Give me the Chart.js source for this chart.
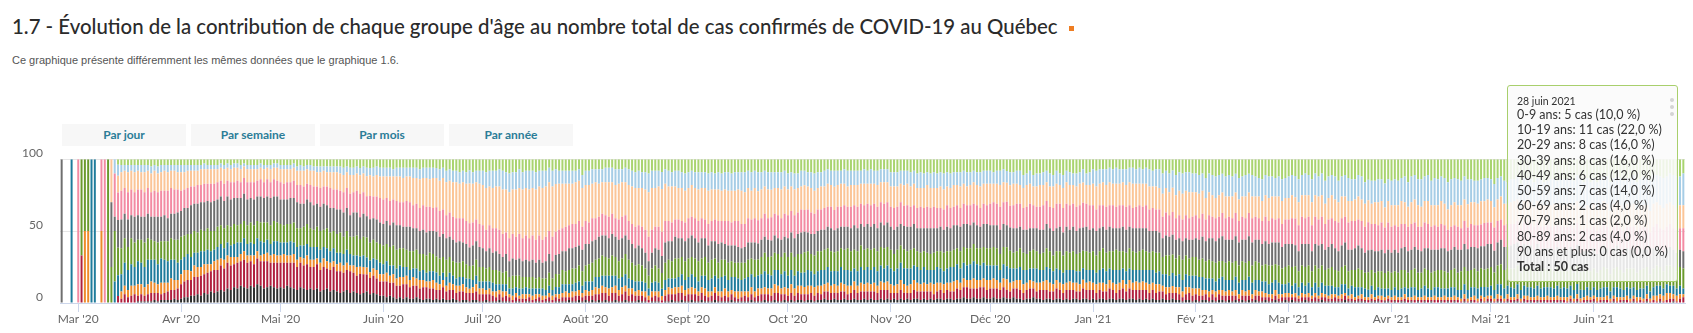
<!DOCTYPE html>
<html lang="fr">
<head>
<meta charset="utf-8">
<title>1.7 - Évolution de la contribution de chaque groupe d'âge</title>
<script src="https://cdn.jsdelivr.net/npm/chart.js@4/dist/chart.umd.min.js"></script>
<style>
  body { margin: 0; width: 1693px; height: 333px; background: #fff; position: relative; overflow: hidden; font-family: Lato, sans-serif; }
  h1 { position: absolute; left: 12px; top: 14px; margin: 0; font-family: Lato, sans-serif; font-weight: 500; font-size: 20.4px; line-height: 24px; color: #2b2b2b; white-space: nowrap; }
  h1 .carre { display: inline-block; width: 5px; height: 5px; background: #ee7d22; margin-left: 12px; vertical-align: middle; }
  .sous-titre { position: absolute; left: 12px; top: 53px; font-family: "Liberation Sans", Arial, sans-serif; font-size: 11px; line-height: 14px; color: #555; }
  .bouton { position: absolute; top: 124px; width: 124px; height: 22px; line-height: 22px; background: #f7f7f7; color: #2b7d97; font-family: Lato, sans-serif; font-weight: bold; font-size: 12px; text-align: center; }
  #zone { position: absolute; left: 0; top: 135px; width: 1693px; height: 198px; }
  #infobulle { position: absolute; left: 1507px; top: 85px; width: 160px; height: 186px; padding: 9px 0 0 9px; border: 1px solid #a8cf6c; border-radius: 3px; background: rgba(250, 250, 250, 0.86); color: #333; font-family: Lato, sans-serif; font-size: 12.5px; }
  #infobulle .date { font-size: 10.5px; line-height: 12px; }
  #infobulle .ligne { line-height: 15.2px; white-space: nowrap; }
  #infobulle .total { font-weight: bold; }
  .point { position: absolute; left: 162px; width: 4px; height: 4px; border-radius: 2px; background: #d4d4d4; }
</style>
</head>
<body>
<h1>1.7 - Évolution de la contribution de chaque groupe d'âge au nombre total de cas confirmés de COVID-19 au Québec<span class="carre"></span></h1>
<div class="sous-titre">Ce graphique présente différemment les mêmes données que le graphique 1.6.</div>
<div class="bouton" style="left:62px">Par jour</div>
<div class="bouton" style="left:191px">Par semaine</div>
<div class="bouton" style="left:320px">Par mois</div>
<div class="bouton" style="left:449px">Par année</div>
<div id="zone"><canvas id="graphique" width="1693" height="198"></canvas></div>
<div id="infobulle"></div>
<script>
// part quotidienne (%) de chaque groupe d'âge, du 25 fév. 2020 au 28 juin 2021
const part0_9 = [
  0,0,0,0,0,0,0,0,0,0,0,0,0,0,0,0,0,4,
  4,4,4,4,4,4,4,4,4,5,4,5,4,4,4,4,4,4,
  4,4,4,4,4,4,4,3,4,4,4,4,3,4,3,4,3,3,4,3,4,4,4,4,3,4,4,4,3,3,
  4,4,4,4,3,5,4,5,4,4,5,5,5,5,5,5,5,5,5,6,5,6,6,5,6,5,6,6,6,5,6,
  6,6,6,7,6,6,6,6,6,6,6,7,6,6,6,6,6,7,6,8,7,8,8,9,8,9,8,9,8,8,
  8,9,8,8,8,7,8,9,10,9,9,7,9,8,8,8,9,8,8,8,6,8,7,8,8,8,8,8,8,7,11,
  8,8,7,7,7,7,6,6,6,7,7,7,6,7,8,9,8,9,9,10,8,8,8,9,7,8,9,8,8,9,10,
  9,8,9,9,9,9,10,9,10,9,10,9,9,10,9,9,9,9,8,9,8,9,9,8,9,9,9,9,9,8,
  10,9,10,10,8,8,9,9,10,9,9,8,7,8,8,8,8,7,8,8,8,8,8,7,8,7,8,8,7,7,7,
  9,9,9,8,8,8,9,8,10,9,10,9,10,9,10,9,10,9,10,9,9,9,8,9,9,8,9,9,8,8,
  8,9,8,8,7,8,9,9,8,8,11,10,8,11,10,10,9,8,10,11,8,10,11,8,9,10,10,9,7,10,9,
  7,8,7,7,7,6,7,6,7,7,7,6,6,7,6,7,6,7,8,7,7,10,8,10,8,11,9,10,9,9,10,
  10,11,10,13,10,11,12,11,10,12,11,12,10,13,12,11,10,11,12,13,14,11,12,12,13,12,14,13,
  12,11,12,14,11,10,11,14,10,12,10,15,12,11,12,15,12,11,13,14,14,11,12,16,14,15,15,14,14,17,14,
  15,14,15,13,12,16,12,11,14,14,12,11,15,13,14,12,13,16,14,13,14,15,12,14,14,15,15,14,13,13,
  14,17,13,12,15,16,14,14,12,17,13,13,14,16,13,14,16,15,14,14,15,14,14,14,13,15,11,13,16,13,16,
  13,16,14,12,12,16,13,12,13,15,13,13,11,16,14,12,13,15,11,11,12,13,12,10,11,12,12,10
];
const part10_19 = [
  0,0,0,0,0,0,0,0,0,0,0,0,0,0,0,0,10,8,
  5,4,5,4,5,4,5,5,4,5,4,5,5,4,5,4,4,5,
  5,5,4,4,4,4,3,4,3,3,3,3,3,3,3,3,3,3,3,2,3,3,3,3,3,3,2,3,3,3,
  3,3,3,3,3,3,4,3,3,4,3,4,4,3,4,4,4,4,5,5,4,5,5,5,5,5,6,5,6,6,6,
  6,6,6,5,6,6,7,6,6,7,7,7,7,7,8,7,7,8,7,8,8,8,8,8,8,8,9,8,8,9,
  10,11,11,12,11,12,13,12,13,12,12,13,12,12,13,12,12,11,12,11,10,11,10,9,9,9,9,9,8,8,9,
  10,10,10,9,10,9,10,10,10,11,10,9,10,11,11,11,12,11,12,13,12,12,11,12,10,11,10,11,12,11,12,
  11,10,11,12,11,11,12,12,11,12,12,12,13,12,13,12,13,14,12,13,12,13,12,11,12,12,11,11,12,11,
  11,10,11,10,11,10,10,11,12,11,10,11,10,10,11,10,9,10,11,10,10,10,9,10,9,10,9,10,9,9,9,
  10,10,10,9,10,9,10,9,10,11,10,9,10,11,10,10,11,10,10,9,9,10,9,10,9,8,9,10,9,9,
  9,8,9,10,9,8,9,8,9,10,9,8,9,8,9,8,9,8,9,8,9,8,9,8,9,8,9,8,9,8,9,
  10,11,10,9,11,10,10,11,10,9,11,10,11,10,11,10,11,12,11,12,13,14,12,13,12,14,13,14,13,14,13,
  13,13,12,14,13,14,15,14,13,14,15,14,13,15,14,15,13,15,14,13,15,14,15,14,13,14,15,14,
  15,14,15,16,14,15,14,16,15,14,15,16,15,14,16,15,14,15,16,15,14,15,16,15,14,16,15,16,15,17,15,
  17,18,17,16,18,17,18,17,18,19,17,18,17,19,18,17,18,19,18,17,18,17,16,17,16,15,16,15,16,15,
  15,16,15,14,16,15,16,15,16,17,16,15,16,17,16,17,16,17,18,17,16,17,18,17,18,17,18,19,18,19,18,
  18,19,18,17,19,20,18,17,19,20,18,19,20,19,18,20,19,21,20,19,20,21,19,20,21,22,20,22
];
const part20_29 = [
  0,0,0,0,0,0,0,0,0,0,0,0,0,0,0,30,0,12,
  13,12,14,13,14,13,12,14,12,13,14,13,13,14,13,12,13,12,
  13,12,12,11,11,10,11,10,10,10,10,9,9,10,9,9,10,9,9,8,9,9,9,8,8,9,8,9,8,9,
  9,10,9,9,9,10,10,11,10,10,11,10,11,11,10,11,12,12,12,12,11,13,12,12,13,13,14,14,14,15,15,
  16,15,17,16,17,18,17,17,18,19,18,20,19,20,19,21,20,21,22,23,22,24,25,24,25,26,28,27,26,28,
  28,29,27,28,29,30,31,30,32,31,33,32,34,33,34,33,35,34,36,35,34,35,33,32,31,30,29,28,29,28,27,
  25,26,24,25,23,22,23,24,22,23,25,24,23,25,26,27,26,27,28,31,29,27,28,30,26,24,25,23,22,23,22,
  21,22,21,22,21,22,23,22,21,22,21,22,21,22,21,22,23,22,21,20,21,20,20,19,20,19,18,19,20,19,
  18,17,18,17,16,17,16,17,16,15,16,15,16,15,16,15,16,15,14,15,14,15,14,15,14,15,14,15,14,15,14,
  14,15,14,13,14,15,14,15,14,13,14,15,14,13,14,15,14,13,14,15,14,15,14,13,14,15,14,15,14,15,
  14,13,14,15,14,13,14,15,14,13,14,15,14,13,14,15,14,13,14,15,14,13,14,15,14,13,14,15,14,13,14,
  15,16,15,16,15,16,15,16,15,16,15,16,17,16,15,16,15,16,15,16,15,16,17,16,17,16,17,18,17,18,17,
  16,17,16,15,16,15,14,15,14,15,14,15,14,15,14,15,14,15,14,15,14,15,16,15,16,15,16,15,
  15,16,15,16,15,16,15,16,15,16,15,14,15,16,15,14,15,14,15,14,15,16,15,16,15,14,15,16,15,14,15,
  15,14,15,16,15,14,15,16,15,14,15,16,15,14,15,16,15,14,15,16,15,16,15,16,15,16,15,16,15,16,
  15,14,15,16,15,14,15,16,15,14,15,16,15,14,15,16,15,14,15,16,15,16,15,16,15,16,15,16,15,16,15,
  16,15,16,15,16,15,16,15,16,15,16,15,16,15,16,15,16,15,16,15,16,15,16,15,16,15,16,16
];
const part30_39 = [
  0,0,0,0,0,100,0,0,0,0,0,0,50,100,0,0,30,20,
  20,18,19,18,17,18,19,17,18,17,18,17,18,17,19,18,17,16,
  14,13,14,13,12,13,12,13,12,13,12,12,11,12,11,12,11,12,11,11,12,11,12,11,12,11,12,11,12,11,
  12,11,12,11,12,12,13,12,11,12,13,12,13,12,13,14,13,14,13,14,14,15,14,15,16,15,14,16,15,16,17,
  17,16,17,16,17,16,17,18,17,16,17,16,17,18,17,16,17,18,17,16,17,16,17,16,17,16,17,16,15,16,
  16,15,16,17,16,17,16,15,16,17,16,17,16,17,16,17,16,17,16,17,16,17,16,17,16,17,16,17,16,17,16,
  16,15,16,15,14,15,14,15,14,13,14,15,14,13,14,15,14,15,16,17,16,15,16,17,15,14,13,12,13,12,13,
  14,13,14,15,14,13,15,14,15,16,15,16,17,16,17,18,17,16,17,16,17,16,15,16,15,16,15,16,15,16,
  16,15,16,15,16,15,16,15,14,15,14,15,14,15,14,15,14,15,14,15,14,15,14,15,14,15,14,15,14,15,14,
  14,15,14,15,14,15,14,13,14,15,14,15,14,15,14,13,14,15,14,13,14,13,14,13,14,13,14,13,14,13,
  15,16,15,16,15,16,15,16,17,16,15,16,17,16,15,16,17,16,15,16,17,16,17,16,17,16,17,16,17,16,17,
  16,15,16,15,16,15,16,15,16,15,16,15,14,15,16,15,16,15,16,15,16,15,16,15,16,15,16,15,16,15,16,
  16,15,16,15,16,15,16,15,16,15,16,15,16,15,16,15,16,17,16,15,16,17,16,17,16,17,16,17,
  17,18,19,18,19,18,19,18,19,18,19,18,19,18,19,20,19,18,19,20,19,18,19,18,19,18,19,18,19,18,19,
  18,17,18,17,16,17,18,17,16,17,18,17,16,17,16,17,16,15,16,15,16,15,16,15,16,15,16,15,16,15,
  15,16,15,14,15,16,15,14,15,16,15,16,15,16,15,16,15,16,15,16,15,16,15,16,15,16,15,16,15,16,15,
  15,16,15,16,15,16,15,16,15,16,15,16,15,16,15,16,15,16,15,16,15,16,15,16,15,16,15,16
];
const part40_49 = [
  100,0,0,0,0,0,0,0,0,0,0,0,0,0,0,45,10,20,
  20,17,19,16,18,17,16,18,17,16,17,18,17,18,16,17,18,19,
  18,19,18,20,19,20,19,20,19,20,21,19,20,19,20,19,18,19,18,19,18,17,18,17,18,17,18,19,17,18,
  17,18,17,18,17,18,17,16,17,18,17,16,17,18,16,17,16,17,16,17,16,15,17,16,15,16,15,16,15,16,15,
  15,16,15,16,17,16,15,16,17,16,15,16,17,16,15,16,17,15,16,15,14,15,14,15,13,14,13,14,13,14,
  13,12,13,12,13,12,11,12,11,12,11,12,11,12,11,12,11,12,11,12,13,12,13,14,13,14,15,14,15,14,15,
  15,14,15,14,15,14,15,14,15,14,15,14,13,14,13,12,13,12,11,10,11,12,13,12,14,13,14,15,14,13,14,
  14,15,14,13,14,13,12,13,12,13,12,11,12,11,12,11,10,11,12,11,12,11,12,11,12,11,12,11,12,11,
  13,14,13,14,15,14,13,14,15,14,15,14,15,16,15,16,15,16,15,16,17,16,15,16,17,16,17,16,17,16,17,
  16,17,16,15,16,17,16,17,16,17,16,17,18,17,16,17,16,17,16,17,16,17,16,17,16,15,16,15,16,17,
  16,15,16,17,16,15,16,17,16,15,16,17,16,15,16,17,16,17,16,17,16,17,16,17,16,17,16,17,16,17,16,
  16,17,16,15,16,17,16,15,16,17,16,15,16,17,16,15,16,15,14,15,14,13,14,13,14,13,12,13,12,13,12,
  13,14,15,14,15,16,15,16,17,16,15,16,17,16,15,16,17,16,15,16,15,16,15,16,15,16,15,16,
  15,16,15,14,15,16,15,14,15,16,15,14,15,16,15,14,15,16,15,14,15,16,15,14,15,14,15,14,15,14,15,
  14,15,14,15,16,15,14,15,16,15,14,15,16,15,14,15,16,15,14,15,16,15,16,15,16,15,16,15,16,17,
  16,15,16,17,16,15,16,17,16,15,16,15,16,15,16,15,14,15,14,15,14,15,14,15,14,15,14,13,14,13,14,
  14,13,14,15,14,13,14,15,14,13,14,13,14,13,14,13,12,13,14,13,12,13,12,13,12,13,12,12
];
const part50_59 = [
  0,0,0,0,0,0,67,50,50,0,0,0,0,0,100,25,35,20,
  18,17,16,18,17,15,16,17,15,14,13,15,12,13,14,15,14,16,
  16,15,14,16,15,14,15,14,15,14,13,14,13,14,12,13,14,12,13,12,13,14,13,12,13,14,12,13,14,13,
  13,12,13,12,14,13,12,13,14,13,12,14,13,12,14,13,12,13,14,12,13,12,13,14,12,13,14,12,13,12,13,
  13,12,13,14,13,12,13,12,13,12,13,12,11,12,13,12,11,12,11,12,11,10,11,10,11,10,9,10,11,10,
  10,9,10,9,10,9,8,9,8,9,8,9,8,7,8,8,7,8,7,8,9,8,9,9,10,9,10,11,10,11,10,
  11,12,13,12,13,14,13,12,14,13,12,13,14,13,12,11,12,11,10,9,10,11,10,11,12,13,12,14,13,12,13,
  13,12,13,14,12,13,12,13,12,11,12,11,12,11,10,11,12,11,12,11,12,11,12,13,12,13,12,11,12,13,
  13,12,13,12,13,14,13,12,13,14,13,14,13,14,13,14,13,14,15,14,13,14,15,14,13,14,13,14,13,14,13,
  13,12,13,12,13,12,13,12,11,12,11,12,11,12,11,12,13,12,11,12,11,12,11,12,11,12,11,12,11,12,
  12,13,12,11,12,13,12,11,12,13,12,11,12,13,12,11,12,13,12,11,12,13,12,13,12,13,12,13,12,13,12,
  13,12,13,14,13,12,13,14,13,12,13,14,13,12,13,14,13,12,13,14,13,12,13,14,13,12,13,14,13,12,13,
  13,12,13,12,13,12,13,12,11,12,13,12,11,12,13,12,11,12,13,12,11,12,13,12,11,12,11,12,
  12,13,12,11,12,13,12,11,12,13,12,11,12,13,12,11,12,13,12,11,12,13,12,11,12,11,12,11,12,11,12,
  12,11,12,13,12,11,12,13,12,11,12,13,12,11,12,13,12,11,12,13,12,13,12,13,12,13,12,13,12,13,
  13,12,13,14,13,12,13,14,13,12,13,14,13,12,13,12,13,12,13,12,13,12,13,12,13,12,13,12,13,12,13,
  13,12,13,14,13,12,13,14,13,12,13,14,13,12,13,14,13,12,13,14,13,12,13,14,13,12,13,14
];
const part60_69 = [
  0,0,0,100,0,0,0,0,0,100,100,0,0,0,0,0,15,15,
  12,16,14,15,13,16,15,14,17,15,16,14,17,16,15,13,14,12,
  10,9,11,10,9,10,11,9,10,9,8,9,10,8,9,8,9,10,8,9,8,9,8,9,10,8,9,8,9,10,
  9,8,9,10,8,9,8,9,8,9,9,8,9,8,9,8,9,8,7,8,9,8,7,8,7,8,7,8,7,7,8,
  7,8,7,6,7,8,7,6,7,6,7,6,7,6,7,6,7,6,5,6,7,6,5,6,5,6,7,5,6,5,
  5,6,5,6,5,4,5,5,4,5,4,5,4,5,4,5,4,4,5,4,5,4,5,5,6,5,6,5,6,6,5,
  6,7,6,7,8,7,8,9,8,7,8,7,8,7,6,7,6,7,6,5,6,7,6,5,7,6,7,6,7,8,7,
  8,9,8,7,8,9,8,9,8,9,10,9,8,9,10,9,8,9,10,9,10,9,10,11,10,9,10,11,10,11,
  9,10,9,10,9,10,11,10,9,10,11,10,11,10,9,10,11,10,11,10,9,10,11,10,11,10,11,10,11,10,11,
  11,10,11,12,11,12,11,10,11,10,11,10,9,10,11,10,9,10,11,10,11,10,11,10,11,12,11,10,11,10,
  10,9,10,9,10,9,10,9,8,9,10,9,8,9,10,9,8,9,10,9,8,9,8,9,8,9,8,9,8,9,8,
  9,8,9,10,9,8,9,10,9,8,9,8,9,8,9,8,9,10,9,8,9,8,9,8,9,8,9,8,9,8,9,
  9,8,9,8,9,8,7,8,9,8,7,8,9,8,7,8,9,8,7,8,7,8,7,8,7,8,7,6,
  7,6,7,6,7,6,7,6,7,6,7,6,7,6,5,6,7,6,5,6,7,6,5,6,5,6,5,6,5,6,5,
  5,6,5,6,5,6,7,6,5,6,7,6,5,6,7,6,5,6,7,6,5,6,7,6,7,6,7,6,7,6,
  7,6,7,8,7,6,7,6,7,6,7,6,7,6,7,6,7,6,7,6,7,6,7,6,7,6,7,6,5,6,5,
  6,5,6,7,6,5,6,7,6,5,6,7,6,5,6,7,6,5,6,7,6,5,6,5,6,5,6,4
];
const part70_79 = [
  0,0,0,0,0,0,0,50,50,0,0,0,50,0,0,0,0,0,
  5,6,5,7,6,8,7,6,7,8,7,6,8,7,6,8,7,6,
  7,8,7,6,8,7,6,7,6,5,6,7,5,6,5,6,5,4,5,6,5,4,6,5,4,5,6,5,6,5,
  5,6,5,5,6,5,4,5,6,5,5,4,5,6,5,5,4,5,6,5,5,4,5,6,5,5,5,4,5,6,5,
  5,6,5,6,5,6,5,6,5,6,5,6,5,4,5,6,5,4,5,4,5,4,5,4,5,4,3,4,5,4,
  4,3,4,3,4,3,4,3,2,3,3,2,3,3,2,3,3,2,3,2,3,3,2,3,3,4,3,4,3,4,3,
  4,3,4,5,4,5,4,5,4,5,4,5,4,5,4,3,4,3,4,3,4,3,4,3,4,5,4,5,4,5,4,
  4,5,4,3,4,5,4,3,4,3,4,5,4,3,4,5,4,3,4,5,4,5,4,5,4,5,6,5,4,5,
  5,6,5,5,6,5,6,5,6,5,6,5,6,5,6,5,6,5,6,5,6,5,6,5,6,5,6,5,6,5,6,
  6,5,6,7,6,5,6,7,6,5,6,5,6,7,6,5,6,5,6,7,6,5,6,5,6,7,6,5,6,7,
  6,7,6,5,6,7,6,5,6,7,6,5,6,5,6,5,6,7,6,5,6,5,6,5,6,5,6,5,6,5,6,
  5,6,5,6,5,6,5,6,5,6,5,6,5,6,5,6,5,6,5,6,5,4,5,4,5,4,5,4,5,4,5,
  4,5,4,3,4,3,4,3,4,3,4,3,4,3,4,3,4,3,4,3,4,3,2,3,4,3,2,3,
  3,2,3,2,3,2,3,2,3,2,3,2,2,3,2,2,3,2,2,3,2,2,3,2,2,3,2,2,3,2,2,
  2,3,2,2,3,2,2,3,2,2,3,2,2,3,2,2,3,2,2,3,2,2,3,2,2,3,2,2,3,2,
  2,2,3,2,2,3,2,2,3,2,2,3,2,2,3,2,2,3,2,2,3,2,2,3,2,2,3,2,2,3,2,
  2,3,2,2,3,2,2,3,2,2,3,2,2,3,2,2,3,2,3,4,3,4,5,4,3,4,3,2
];
const part80_89 = [
  0,0,0,0,0,0,33,0,0,0,0,0,0,0,0,0,0,5,
  3,6,4,5,6,4,5,4,5,6,5,6,4,5,6,7,6,8,
  10,11,12,11,13,12,14,13,15,14,16,15,17,16,18,17,16,18,17,19,18,17,16,18,17,19,18,16,17,18,
  17,18,16,17,18,16,17,16,18,15,16,17,15,16,14,15,16,14,15,13,14,15,13,12,14,13,12,11,12,11,10,
  10,11,9,10,9,8,10,9,8,9,8,7,9,8,7,8,6,7,8,6,7,6,5,7,6,5,6,5,6,5,
  5,4,5,4,3,4,3,4,3,2,3,2,3,2,3,2,2,3,2,2,3,2,3,2,3,3,2,3,4,3,3,
  3,4,3,5,4,6,5,4,6,5,4,5,6,4,5,4,3,4,3,2,3,4,3,2,4,5,4,5,6,5,4,
  5,4,5,4,5,4,3,4,5,4,3,4,3,4,3,2,3,4,3,4,3,4,5,4,5,4,5,6,5,4,
  4,5,4,5,4,5,4,5,4,5,4,5,6,5,4,5,6,5,4,5,6,5,6,5,6,5,6,5,6,7,6,
  5,4,5,6,5,4,5,6,5,6,5,6,5,4,5,6,5,6,5,6,7,6,7,8,7,6,7,8,7,6,
  7,6,7,6,7,6,5,6,7,6,5,6,7,6,5,6,7,6,5,6,7,6,5,6,7,6,5,6,7,6,7,
  6,5,6,5,6,7,6,5,6,7,6,7,6,7,6,7,6,5,6,5,6,5,4,5,4,5,4,3,4,5,4,
  4,4,3,4,3,4,3,4,3,4,3,4,3,2,3,4,3,2,3,4,3,2,3,2,3,2,3,2,
  3,2,3,2,3,2,3,2,3,2,2,3,2,2,3,2,2,3,2,2,1,2,2,1,2,2,1,2,2,1,2,
  2,1,2,1,2,2,1,2,1,2,1,2,1,2,2,1,2,1,2,1,2,1,2,1,1,2,1,2,1,2,
  2,1,2,2,1,2,2,1,2,1,2,2,1,2,1,2,1,2,2,1,2,1,2,1,2,1,2,1,2,1,2,
  2,1,2,1,2,1,2,1,2,1,2,1,2,1,2,1,2,1,2,1,2,1,2,3,2,1,3,4
];
const part90plus = [
  0,0,0,0,0,0,0,0,0,0,0,0,0,0,0,0,0,0,
  0,0,0,0,0,1,1,1,1,1,2,1,2,2,2,2,3,2,
  3,4,4,5,5,6,5,7,6,8,7,8,9,8,10,9,11,10,12,11,10,12,11,13,12,10,11,12,11,10,
  11,10,12,11,10,9,11,10,9,10,9,10,8,9,10,8,9,8,7,8,9,7,8,7,6,7,8,6,7,6,5,
  5,4,5,4,3,4,3,4,3,3,4,3,2,3,3,2,3,2,3,2,2,3,2,1,2,2,1,2,2,1,
  1,2,1,1,1,2,1,1,1,0,1,1,0,1,1,0,1,1,0,1,1,0,1,1,1,1,2,1,1,2,1,
  2,1,2,1,2,1,2,1,1,2,1,1,2,1,1,1,2,1,1,0,1,1,1,0,1,1,2,1,1,2,1,
  1,2,1,1,2,1,1,1,2,1,1,1,1,2,1,1,1,1,1,2,1,1,1,2,1,1,2,1,1,2,
  1,2,1,2,2,1,2,2,1,2,2,3,2,2,3,2,2,3,2,2,3,2,2,3,2,3,2,2,3,2,3,
  2,3,2,3,2,3,2,3,3,2,3,2,3,2,3,3,2,3,3,2,3,3,4,3,3,4,3,3,4,3,
  3,4,3,3,4,3,3,4,3,3,2,3,3,4,3,3,2,3,3,2,3,3,2,3,2,3,3,2,3,3,2,
  3,2,3,3,2,3,3,2,3,3,2,3,3,2,3,2,3,2,3,2,2,3,2,2,3,2,2,1,2,2,1,
  2,1,2,2,1,2,1,2,2,1,2,1,2,1,2,1,2,1,2,1,1,2,1,1,2,1,1,2,
  1,2,1,1,1,2,1,1,1,1,2,1,1,1,1,1,1,2,1,1,1,1,1,1,0,1,1,1,0,1,1,
  0,1,0,1,1,0,1,0,1,0,1,0,1,0,0,1,0,1,0,1,0,0,1,0,1,0,0,1,0,1,
  1,0,1,1,0,1,0,1,1,0,1,0,1,0,1,0,1,0,0,1,0,1,0,0,1,0,1,0,0,1,0,
  1,0,0,1,0,0,1,0,0,1,0,0,1,0,0,0,1,0,0,0,1,0,0,0,1,0,0,0
];

const nomsGroupes = ["0-9 ans", "10-19 ans", "20-29 ans", "30-39 ans", "40-49 ans",
  "50-59 ans", "60-69 ans", "70-79 ans", "80-89 ans", "90 ans et plus"];
const couleurs = ["#a9d46f", "#a6cde6", "#fbc597", "#f38ba3", "#6f6f6f",
  "#6a9a2c", "#1e7b9b", "#ee8a2a", "#b01f3e", "#2e2e2e"];
const etiquettesMois = ["Jan", "Fév", "Mar", "Avr", "Mai", "Juin", "Juil", "Août", "Sept", "Oct", "Nov", "Déc"];
const casDernierJour = [5, 11, 8, 8, 6, 7, 2, 1, 2, 0];
const dateDernierJour = "28 juin 2021";

const parts = [part0_9, part10_19, part20_29, part30_39, part40_49,
  part50_59, part60_69, part70_79, part80_89, part90plus];

const jours = [];
for (let i = 0; i < part0_9.length; i++) {
  jours.push(new Date(2020, 1, 25 + i));
}
const totaux = jours.map((d, i) => parts.reduce((s, p) => s + p[i], 0));

// la pile commence par les 90 ans et plus, en bas
const datasets = [];
for (let g = parts.length - 1; g >= 0; g--) {
  datasets.push({
    label: nomsGroupes[g],
    data: parts[g].map((v, i) => totaux[i] ? v / totaux[i] * 100 : 0),
    backgroundColor: couleurs[g],
    borderWidth: 0,
    barPercentage: 0.6,
    categoryPercentage: 1
  });
}

const police = { family: "Lato", size: 12 };

new Chart(document.getElementById("graphique").getContext("2d"), {
  type: "bar",
  data: {
    labels: jours.map(d => d.getDate() + "/" + (d.getMonth() + 1) + "/" + d.getFullYear()),
    datasets: datasets
  },
  options: {
    responsive: false,
    animation: false,
    layout: { padding: { top: 14, right: 8, left: 0, bottom: 0 } },
    plugins: { legend: { display: false }, tooltip: { enabled: false } },
    scales: {
      x: {
        stacked: true,
        grid: { offset: false, drawOnChartArea: false, color: "#ccd6eb", tickLength: 9 },
        border: { color: "#ccd6eb" },
        ticks: {
          autoSkip: false, maxRotation: 0, padding: 0, color: "#666", font: police,
          callback: function (v, i) {
            const d = jours[i];
            return d.getDate() === 1 ? etiquettesMois[d.getMonth()] + " '" + String(d.getFullYear()).slice(2) : null;
          }
        },
        afterFit: s => { s.height = 30; }
      },
      y: {
        stacked: true,
        min: 0,
        max: 100,
        ticks: { stepSize: 50, padding: 17, labelOffset: -6, color: "#666", font: police },
        grid: { color: "#e6e6e6", drawTicks: false },
        border: { display: false },
        afterFit: s => { s.width = 60; }
      }
    }
  }
});

// infobulle du dernier jour
const total = casDernierJour.reduce((s, v) => s + v, 0);
let html = '<div class="date">' + dateDernierJour + '</div>';
casDernierJour.forEach((n, g) => {
  const pct = (n / total * 100).toFixed(1).replace(".", ",");
  html += '<div class="ligne">' + nomsGroupes[g] + ": " + n + " cas (" + pct + " %)</div>";
});
html += '<div class="ligne total">Total : ' + total + ' cas</div>';
html += '<div class="point" style="top:12px"></div><div class="point" style="top:19px"></div><div class="point" style="top:26px"></div>';
document.getElementById("infobulle").innerHTML = html;
</script>
</body>
</html>
